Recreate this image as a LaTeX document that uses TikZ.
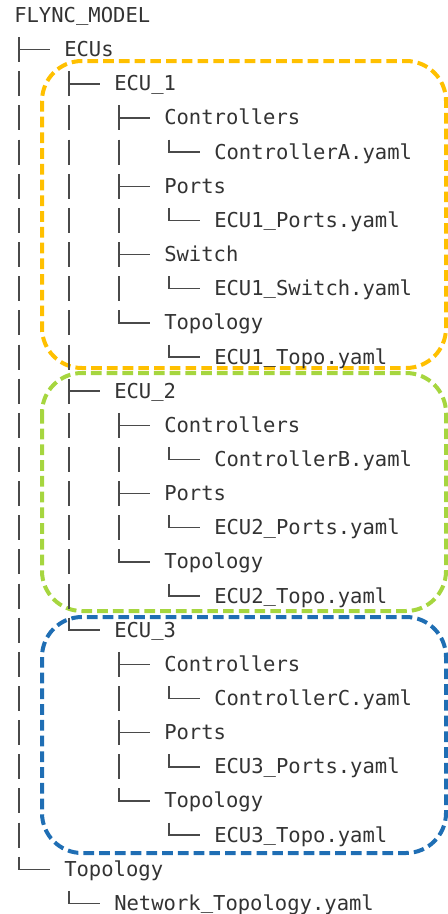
\documentclass[tikz,border=0pt]{standalone}
\usepackage{fontspec}
\newfontfamily\treefont{DejaVu Sans Mono}
\definecolor{txtgray}{HTML}{333333}
\definecolor{linegray}{HTML}{4A4A4A}
\definecolor{ecuorange}{HTML}{FFC000}
\definecolor{ecugreen}{HTML}{A6D63F}
\definecolor{ecublue}{HTML}{1F6EB4}

% row centre (px, downwards)
\newcommand{\rowc}[1]{15.5+34.15*#1}
% continuing vertical bar of an ancestor level
\newcommand{\vbar}[2]{\draw[treeline] (#1,{\rowc{#2}-12.5}) -- ++(0,25);}
% branch to a child that has further siblings
\newcommand{\tee}[2]{\draw[treeline] (#1,{\rowc{#2}-12.5}) -- ++(0,25)
  (#1,{\rowc{#2}}) -- ++(31,0);}
% branch to the last child
\newcommand{\elbow}[2]{\draw[treeline] (#1,{\rowc{#2}-12.5}) |- ++(31,12.5);}
% entry text
\newcommand{\entry}[4]{\node[entrytext] (#1) at (#2,{\rowc{#3}+7}) {#4};}
% underscore set a little higher, close to the baseline
\newcommand{\us}{\raisebox{1.3pt}{\_}}

\begin{document}
\begin{tikzpicture}[x=0.75pt,y=-0.75pt,
  treeline/.style={draw=linegray,line width=1.1pt},
  entrytext/.style={anchor=base west,inner sep=0pt,text=txtgray,
    font=\treefont\fontsize{15.4}{18}\selectfont},
  ecubox/.style={line width=3pt,rounded corners=30pt,
    dash pattern=on 8pt off 3.8pt}]
\useasboundingbox (0,0) rectangle (447,914);

% group frames
\draw[ecubox,draw=ecuorange] (42,61) rectangle (446,368);
\draw[ecubox,draw=ecugreen] (42,373) rectangle (446,611);
\draw[ecubox,draw=ecublue] (42,617) rectangle (446,853);

% entries
\entry{root}{14}{0}{FLYNC\us MODEL}
\entry{ecus}{64}{1}{ECUs}
\entry{ecuA}{114}{2}{ECU\us 1}
\entry{ctlA}{164}{3}{Controllers}
\entry{ctlAf}{214}{4}{ControllerA.yaml}
\entry{prtA}{164}{5}{Ports}
\entry{prtAf}{214}{6}{ECU1\us Ports.yaml}
\entry{swA}{164}{7}{Switch}
\entry{swAf}{214}{8}{ECU1\us Switch.yaml}
\entry{topA}{164}{9}{Topology}
\entry{topAf}{214}{10}{ECU1\us Topo.yaml}
\entry{ecuB}{114}{11}{ECU\us 2}
\entry{ctlB}{164}{12}{Controllers}
\entry{ctlBf}{214}{13}{ControllerB.yaml}
\entry{prtB}{164}{14}{Ports}
\entry{prtBf}{214}{15}{ECU2\us Ports.yaml}
\entry{topB}{164}{16}{Topology}
\entry{topBf}{214}{17}{ECU2\us Topo.yaml}
\entry{ecuC}{114}{18}{ECU\us 3}
\entry{ctlC}{164}{19}{Controllers}
\entry{ctlCf}{214}{20}{ControllerC.yaml}
\entry{prtC}{164}{21}{Ports}
\entry{prtCf}{214}{22}{ECU3\us Ports.yaml}
\entry{topC}{164}{23}{Topology}
\entry{topCf}{214}{24}{ECU3\us Topo.yaml}
\entry{net}{64}{25}{Topology}
\entry{netf}{114}{26}{Network\us Topology.yaml}

% tree branches
\tee{19}{1}
\vbar{19}{2}\tee{69}{2}
\vbar{19}{3}\vbar{69}{3}\tee{119}{3}
\vbar{19}{4}\vbar{69}{4}\vbar{119}{4}\elbow{169}{4}
\vbar{19}{5}\vbar{69}{5}\tee{119}{5}
\vbar{19}{6}\vbar{69}{6}\vbar{119}{6}\elbow{169}{6}
\vbar{19}{7}\vbar{69}{7}\tee{119}{7}
\vbar{19}{8}\vbar{69}{8}\vbar{119}{8}\elbow{169}{8}
\vbar{19}{9}\vbar{69}{9}\elbow{119}{9}
\vbar{19}{10}\vbar{69}{10}\elbow{169}{10}
\vbar{19}{11}\tee{69}{11}
\vbar{19}{12}\vbar{69}{12}\tee{119}{12}
\vbar{19}{13}\vbar{69}{13}\vbar{119}{13}\elbow{169}{13}
\vbar{19}{14}\vbar{69}{14}\tee{119}{14}
\vbar{19}{15}\vbar{69}{15}\vbar{119}{15}\elbow{169}{15}
\vbar{19}{16}\vbar{69}{16}\elbow{119}{16}
\vbar{19}{17}\vbar{69}{17}\elbow{169}{17}
\vbar{19}{18}\elbow{69}{18}
\vbar{19}{19}\tee{119}{19}
\vbar{19}{20}\vbar{119}{20}\elbow{169}{20}
\vbar{19}{21}\tee{119}{21}
\vbar{19}{22}\vbar{119}{22}\elbow{169}{22}
\vbar{19}{23}\elbow{119}{23}
\vbar{19}{24}\elbow{169}{24}
\elbow{19}{25}
\elbow{69}{26}
\end{tikzpicture}
\end{document}
